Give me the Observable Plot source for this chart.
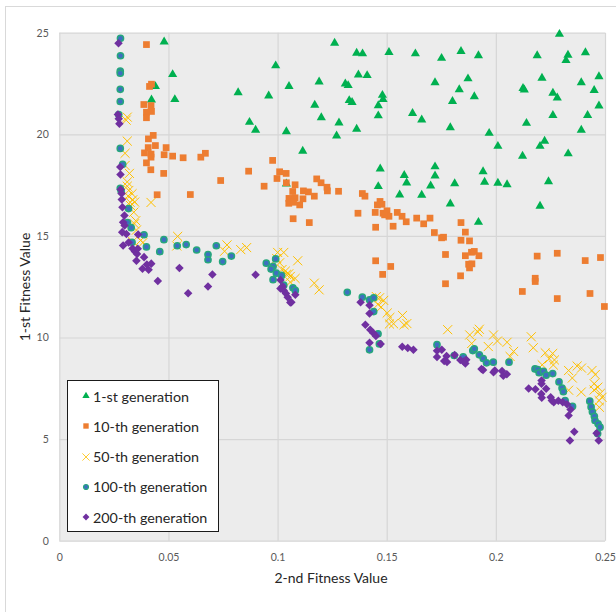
<!DOCTYPE html>
<html>
<head>
<meta charset="utf-8">
<script src="https://cdn.jsdelivr.net/npm/d3@7"></script>
<script src="https://cdn.jsdelivr.net/npm/@observablehq/plot@0.6"></script>
<style>
  html, body { margin: 0; padding: 0; background: #fff; }
  #wrap { position: relative; width: 616px; height: 612px; overflow: hidden; font-family: Lato, "Open Sans", sans-serif; }
  #border { position: absolute; left: 5px; top: 6px; width: 640px; height: 640px; border: 1px solid #d9d9d9; box-sizing: border-box; }
  #chart { position: absolute; left: 0; top: 0; }
  .title { position: absolute; font-size: 14px; color: #262626; white-space: nowrap; }
  #xtitle { left: 331px; top: 577px; transform: translate(-50%, -50%); }
  #ytitle { left: 24px; top: 287px; transform: translate(-50%, -50%) rotate(-90deg); }
  #legend { position: absolute; left: 67px; top: 380px; width: 152px; height: 152px; border: 1px solid #1a1a1a; background: #fff; box-sizing: border-box; }
  .item { position: absolute; left: 13px; height: 20px; display: flex; align-items: center; font-size: 14.3px; color: #262626; white-space: nowrap; }
  .item svg { margin-right: 2px; }
</style>
</head>
<body>
<div id="wrap">
  <div id="border"></div>
  <div id="chart"></div>
  <div class="title" id="xtitle">2-nd Fitness Value</div>
  <div class="title" id="ytitle">1-st Fitness Value</div>
  <div id="legend"></div>
</div>
<script>
// ---- data: [2nd fitness, 1st fitness] ----
const seriesNames = ["1-st generation", "10-th generation", "50-th generation", "100-th generation", "200-th generation"];
const xTicks = [0, 0.05, 0.1, 0.15, 0.2, 0.25];
const xTickLabels = ["0", "0.05", "0.1", "0.15", "0.2", "0.25"];
const yTicks = [0, 5, 10, 15, 20, 25];
const yTickLabels = ["0", "5", "10", "15", "20", "25"];

const gen1 = [
  [0.0478,24.58],[0.0517,22.97],[0.0438,22.38],[0.0420,21.72],[0.0527,21.74],[0.0817,22.08],[0.0957,21.92],
  [0.0989,23.40],[0.1050,22.39],[0.0869,20.62],[0.0897,20.23],[0.1038,20.16],[0.1113,19.20],[0.1038,17.59],
  [0.1259,24.51],[0.1360,24.02],[0.1387,23.99],[0.1508,24.06],[0.1629,23.99],[0.1749,23.77],[0.1838,24.11],
  [0.1918,23.90],[0.2289,24.95],[0.2187,23.90],[0.2328,23.92],[0.2319,23.66],[0.2408,24.05],[0.1188,22.61],
  [0.1308,22.51],[0.1321,22.43],[0.1368,22.95],[0.1408,22.92],[0.1719,22.57],[0.1870,22.76],[0.1830,22.23],
  [0.1899,21.88],[0.1799,21.65],[0.2209,22.79],[0.2122,22.29],[0.2128,22.21],[0.2259,22.05],[0.2279,21.82],
  [0.2389,22.57],[0.2470,22.87],[0.2448,22.19],[0.2470,21.43],[0.2418,20.96],[0.2259,20.96],[0.2138,20.57],
  [0.2389,20.23],[0.1168,21.46],[0.1198,20.85],[0.1279,20.59],[0.1268,19.95],[0.1360,20.28],[0.1326,21.69],
  [0.1339,21.60],[0.1478,21.95],[0.1481,21.74],[0.1459,21.44],[0.1459,20.94],[0.1616,21.06],[0.1658,20.74],
  [0.1789,20.36],[0.1967,20.08],[0.2007,19.44],[0.2221,19.69],[0.2200,19.44],[0.2120,18.95],[0.2329,19.07],
  [0.1468,18.33],[0.1578,18.01],[0.1719,18.43],[0.1719,17.98],[0.1939,18.19],[0.1589,17.64],[0.1459,17.46],
  [0.1699,17.49],[0.1809,17.60],[0.1946,17.67],[0.2007,17.62],[0.2049,17.55],[0.1557,17.05],[0.1658,17.03],
  [0.1789,16.60],[0.2239,17.70],[0.2200,16.49],[0.1918,15.70]
];

const gen10 = [
  [0.0397,24.44],[0.0411,22.38],[0.0420,22.49],[0.0385,21.49],[0.0418,21.44],[0.0397,21.11],[0.0420,21.15],
  [0.0397,20.84],[0.0406,19.80],[0.0428,19.97],[0.0405,19.37],[0.0438,19.47],[0.0487,19.37],[0.0388,19.11],
  [0.0418,19.05],[0.0418,18.90],[0.0397,18.62],[0.0417,18.28],[0.0478,19.02],[0.0517,18.95],[0.0565,18.87],
  [0.0646,18.90],[0.0667,19.09],[0.0476,18.10],[0.0446,17.05],[0.0598,17.06],[0.0737,17.75],[0.0865,18.21],
  [0.0975,18.74],[0.1007,18.18],[0.1037,18.10],[0.0995,17.85],[0.1038,17.64],[0.1078,17.54],[0.0936,17.47],
  [0.1067,17.21],[0.1116,17.24],[0.1139,17.19],[0.1050,16.87],[0.1078,16.90],[0.1114,16.85],[0.1049,16.63],
  [0.1071,16.68],[0.1099,16.55],[0.1069,15.87],[0.1143,15.68],[0.1177,17.83],[0.1197,17.64],[0.1224,17.42],
  [0.1226,17.24],[0.1277,17.22],[0.1166,16.98],[0.1386,17.11],[0.1398,16.98],[0.1467,16.72],[0.1476,16.58],
  [0.1455,16.55],[0.1366,16.14],[0.1445,16.18],[0.1481,16.14],[0.1499,16.26],[0.1508,15.99],[0.1488,16.06],
  [0.1546,16.18],[0.1568,15.99],[0.1587,15.72],[0.1635,15.90],[0.1667,15.62],[0.1696,15.90],[0.1447,15.45],
  [0.1527,15.50],[0.1716,15.19],[0.1749,14.93],[0.1758,14.96],[0.1838,15.68],[0.1858,15.21],[0.1838,14.81],
  [0.1877,14.78],[0.1767,14.11],[0.1858,14.05],[0.1886,14.22],[0.1899,14.26],[0.1920,14.05],[0.1873,13.63],
  [0.1888,13.65],[0.1877,13.45],[0.1447,13.80],[0.1516,13.52],[0.1479,13.13],[0.1836,13.06],[0.1767,12.67],
  [0.2187,14.03],[0.2279,14.17],[0.2407,13.81],[0.2477,13.96],[0.2178,12.94],[0.2178,12.78],[0.2119,12.29],
  [0.2279,11.94],[0.2429,12.19],[0.2495,11.55]
];

const gen50 = [
  [0.0309,20.87],[0.0304,20.72],[0.0309,19.69],[0.0299,19.09],[0.0299,18.49],[0.0319,18.10],[0.0309,17.68],
  [0.0309,17.47],[0.0316,17.26],[0.0331,17.10],[0.0313,16.99],[0.0334,16.80],[0.0322,16.68],[0.0343,16.69],
  [0.0324,16.52],[0.0418,16.67],[0.0339,16.19],[0.0348,15.77],[0.0342,15.62],[0.0351,15.31],[0.0371,14.81],
  [0.0380,14.69],[0.0334,14.75],[0.0540,15.00],[0.0536,14.53],[0.0766,14.58],[0.0755,14.27],[0.0829,14.35],
  [0.0856,14.45],[0.0998,14.21],[0.1026,14.21],[0.1090,13.80],[0.1007,13.70],[0.1018,13.37],[0.1033,13.29],
  [0.1049,13.16],[0.1038,13.13],[0.1056,13.03],[0.1078,12.93],[0.1056,12.75],[0.1166,12.70],[0.1188,12.37],
  [0.1450,12.04],[0.1465,11.98],[0.1484,11.85],[0.1457,11.65],[0.1472,11.52],[0.1500,11.23],[0.1512,11.01],
  [0.1510,10.69],[0.1529,10.70],[0.1570,11.11],[0.1590,10.71],[0.1577,10.65],[0.1777,10.41],[0.1878,10.15],
  [0.1922,10.43],[0.1915,10.30],[0.1887,9.73],[0.1987,10.15],[0.1963,9.58],[0.2005,9.85],[0.2049,9.79],
  [0.2079,9.34],[0.2063,9.09],[0.2160,10.06],[0.2169,9.52],[0.2224,9.27],[0.2258,9.24],[0.2242,8.98],
  [0.2266,8.92],[0.2210,8.68],[0.2261,8.67],[0.2331,8.40],[0.2348,8.03],[0.2370,8.62],[0.2390,8.52],
  [0.2438,8.40],[0.2453,8.20],[0.2448,7.75],[0.2465,7.58],[0.2448,7.44],[0.2476,7.27],[0.2484,7.08],
  [0.2471,6.92],[0.2472,6.59],[0.2389,7.34],[0.2331,7.43],[0.0994,13.91]
];

const gen100 = [
  [0.0278,24.75],[0.0278,23.89],[0.0277,23.13],[0.0277,23.03],[0.0277,22.24],[0.0277,21.64],[0.0270,21.00],
  [0.0277,19.33],[0.0288,18.55],[0.0277,17.37],[0.0281,17.24],[0.0315,16.37],[0.0310,15.68],[0.0327,15.43],
  [0.0331,14.71],[0.0386,15.08],[0.0397,14.48],[0.0477,14.84],[0.0458,14.25],[0.0538,14.54],[0.0579,14.60],
  [0.0627,14.33],[0.0679,14.11],[0.0679,13.85],[0.0717,14.54],[0.0746,13.76],[0.0786,14.03],[0.0946,13.68],
  [0.0989,13.89],[0.0977,13.52],[0.0968,13.39],[0.0992,13.19],[0.1016,13.08],[0.0977,12.87],[0.1026,12.60],
  [0.1068,12.47],[0.1079,12.34],[0.1317,12.25],[0.1386,12.01],[0.1419,11.88],[0.1438,11.98],[0.1438,11.30],
  [0.1458,10.21],[0.1464,9.71],[0.1419,9.42],[0.1728,9.67],[0.1807,9.14],[0.1848,9.07],[0.1892,9.38],
  [0.1899,9.47],[0.1922,9.17],[0.1940,8.99],[0.1955,8.78],[0.1986,8.81],[0.2058,8.81],[0.2177,8.48],
  [0.2189,8.45],[0.2196,8.29],[0.2216,8.36],[0.2228,8.17],[0.2258,8.25],[0.2287,7.84],[0.2301,7.54],
  [0.2307,7.36],[0.2315,6.92],[0.2349,6.64],[0.2428,6.89],[0.2434,6.61],[0.2440,6.37],[0.2449,6.15],
  [0.2452,5.94],[0.2466,5.78],[0.2475,5.61],[0.2464,5.30]
];

const gen200 = [
  [0.0269,24.51],[0.0266,21.00],[0.0270,20.79],[0.0273,20.54],[0.0277,18.41],[0.0278,18.05],[0.0279,17.31],
  [0.0283,17.11],[0.0284,16.82],[0.0287,16.44],[0.0296,16.03],[0.0290,15.70],[0.0297,15.54],[0.0286,15.21],
  [0.0305,15.12],[0.0359,15.09],[0.0290,14.55],[0.0315,14.70],[0.0333,14.40],[0.0344,14.26],[0.0354,14.14],
  [0.0357,14.39],[0.0386,13.98],[0.0351,13.80],[0.0399,13.62],[0.0419,13.66],[0.0379,13.41],[0.0407,13.36],
  [0.0449,12.80],[0.0548,13.44],[0.0588,12.20],[0.0679,12.53],[0.0699,13.12],[0.0897,13.11],[0.1011,12.85],
  [0.1021,12.53],[0.1011,12.44],[0.1026,12.34],[0.1036,12.19],[0.1044,12.01],[0.1056,11.75],[0.1079,12.13],
  [0.1061,11.76],[0.1378,11.76],[0.1419,11.61],[0.1419,11.21],[0.1400,10.65],[0.1422,10.41],[0.1436,10.25],
  [0.1448,10.10],[0.1419,9.77],[0.1470,9.71],[0.1569,9.57],[0.1594,9.51],[0.1620,9.42],[0.1728,9.37],
  [0.1750,9.42],[0.1728,9.06],[0.1772,9.11],[0.1809,9.16],[0.1761,8.87],[0.1774,8.82],[0.1835,8.92],
  [0.1850,8.84],[0.1862,8.93],[0.1858,8.74],[0.1932,8.48],[0.1939,8.43],[0.1993,8.40],[0.1987,8.32],
  [0.2026,8.38],[0.2032,8.14],[0.2048,8.22],[0.2148,7.51],[0.2179,7.48],[0.2207,7.91],[0.2207,7.75],
  [0.2228,7.50],[0.2206,7.25],[0.2208,7.06],[0.2249,7.08],[0.2254,6.92],[0.2263,6.84],[0.2284,6.91],
  [0.2304,6.84],[0.2324,6.74],[0.2340,6.48],[0.2331,6.19],[0.2357,5.39],[0.2337,4.96],[0.2459,5.31],
  [0.2469,4.96]
];

// ---- styles ----
const diamondSym = {
  draw(ctx, size) {
    const r = Math.sqrt(size / 2);
    ctx.moveTo(0, -r); ctx.lineTo(r, 0); ctx.lineTo(0, r); ctx.lineTo(-r, 0); ctx.closePath();
  }
};
const styles = [
  {symbol: "triangle", r: 3.4, fill: "#00b050", stroke: "none", sw: 0},
  {symbol: "square", r: 3.8, fill: "#ed7d31", stroke: "none", sw: 0},
  {symbol: "times", r: 4.2, fill: "none", stroke: "#ffc000", sw: 1},
  {symbol: "circle", r: 3.1, fill: "#3d6fc0", stroke: "#26a77c", sw: 1.5},
  {symbol: diamondSym, r: 3.4, fill: "#7030a0", stroke: "none", sw: 0}
];
const allSeries = [gen1, gen10, gen50, gen100, gen200];

const W = 616, H = 612;
const marks = [
  Plot.frame({fill: "#ececec", stroke: "none"}),
  Plot.gridX(xTicks, {stroke: "#d6d6d6", strokeOpacity: 1, strokeWidth: 1.2}),
  Plot.gridY(yTicks, {stroke: "#d6d6d6", strokeOpacity: 1, strokeWidth: 1.2}),
  Plot.axisX(xTicks, {tickSize: 0, tickPadding: 12, tickFormat: (d, i) => xTickLabels[i], fontSize: 10.5, fill: "#595959", label: null}),
  Plot.axisY(yTicks, {tickSize: 0, tickPadding: 11, tickFormat: (d, i) => yTickLabels[i], fontSize: 10.5, fill: "#595959", label: null})
];
allSeries.forEach((s, i) => {
  const st = styles[i];
  marks.push(Plot.dot(s, {
    x: d => d[0], y: d => d[1], symbol: () => st.symbol, r: st.r,
    fill: st.fill, stroke: st.stroke, strokeWidth: st.sw
  }));
});

const chart = Plot.plot({
  width: W, height: H,
  marginLeft: 59.3, marginRight: 11, marginTop: 32.7, marginBottom: 71.3,
  x: {domain: [0, 0.25]},
  y: {domain: [0, 25]},
  symbol: {type: "identity"},
  style: {fontFamily: "Lato, 'Open Sans', sans-serif", background: "transparent"},
  marks
});
document.getElementById("chart").appendChild(chart);

// ---- legend ----
const legend = document.getElementById("legend");
const itemY = [16, 46, 76.5, 106.5, 137];
const symMap = {triangle: d3.symbolTriangle, square: d3.symbolSquare, times: d3.symbolTimes, circle: d3.symbolCircle};
seriesNames.forEach((name, i) => {
  const st = styles[i];
  const item = document.createElement("div");
  item.className = "item";
  item.style.top = (itemY[i] - 10 - 1) + "px";
  const sz = 10;
  const svg = d3.create("svg").attr("width", sz).attr("height", sz);
  const sym = typeof st.symbol === "string" ? symMap[st.symbol] : st.symbol;
  const rr = st.r * 0.8;
  svg.append("path")
    .attr("transform", `translate(${sz/2},${sz/2})`)
    .attr("d", d3.symbol(sym, rr * rr * Math.PI)())
    .attr("fill", st.fill).attr("stroke", st.stroke).attr("stroke-width", st.sw * 0.8);
  item.appendChild(svg.node());
  const t = document.createElement("span");
  t.textContent = name;
  item.appendChild(t);
  legend.appendChild(item);
});
</script>
</body>
</html>
